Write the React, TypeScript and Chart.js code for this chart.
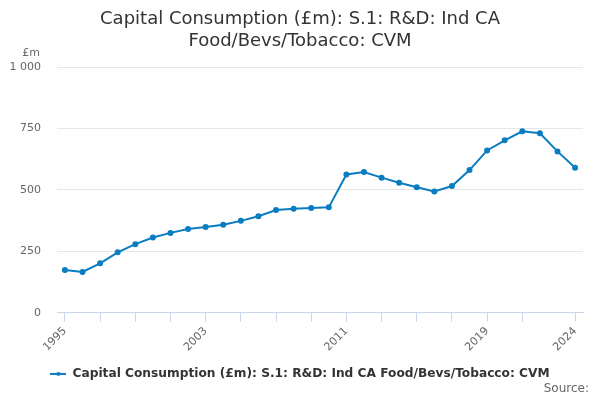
import { useEffect, useRef } from 'react';
import Chart from 'chart.js/auto';

const years = [
  1995, 1996, 1997, 1998, 1999, 2000, 2001, 2002, 2003, 2004,
  2005, 2006, 2007, 2008, 2009, 2010, 2011, 2012, 2013, 2014,
  2015, 2016, 2017, 2018, 2019, 2020, 2021, 2022, 2023, 2024,
];
const values = [
  174, 166, 201, 246, 279, 306, 325, 341, 349, 358,
  374, 393, 418, 423, 426, 429, 563, 573, 550, 529,
  511, 494, 516, 581, 661, 702, 739, 731, 657, 590,
];
const tickYears = [1995, 1997, 1999, 2001, 2003, 2005, 2007, 2009, 2011, 2013, 2015, 2017, 2019, 2021, 2024];
const labelYears = [1995, 2003, 2011, 2019, 2024];
const yTicks = [0, 250, 500, 750, 1000];

const seriesName = 'Capital Consumption (£m): S.1: R&D: Ind CA Food/Bevs/Tobacco: CVM';
const lineColor = '#0a7dc2';
const fontFamily = '"DejaVu Sans", sans-serif';

function legendMarker() {
  const c = document.createElement('canvas');
  c.width = 16;
  c.height = 8;
  const ctx = c.getContext('2d')!;
  ctx.strokeStyle = lineColor;
  ctx.lineWidth = 2;
  ctx.beginPath();
  ctx.moveTo(0, 4);
  ctx.lineTo(16, 4);
  ctx.stroke();
  ctx.fillStyle = lineColor;
  ctx.beginPath();
  ctx.arc(8, 4, 2, 0, Math.PI * 2);
  ctx.fill();
  return c;
}

// "£m" above the y axis and "Source:" in the bottom right corner
const extraText = {
  id: 'extraText',
  afterDraw(chart: Chart) {
    const { ctx, chartArea } = chart;
    ctx.save();
    ctx.font = `11px ${fontFamily}`;
    ctx.fillStyle = '#666';
    ctx.textAlign = 'right';
    ctx.textBaseline = 'middle';
    ctx.fillText('£m', chartArea.left - 17, chartArea.top - 14);
    ctx.font = `12px ${fontFamily}`;
    ctx.fillText('Source:', 589, 389);
    ctx.restore();
  },
};

export default function App() {
  const canvasRef = useRef<HTMLCanvasElement | null>(null);

  useEffect(() => {
    if (!canvasRef.current) return;
    document.body.style.margin = '0';

    const chart = new Chart(canvasRef.current, {
      type: 'line',
      data: {
        datasets: [
          {
            label: seriesName,
            data: years.map((y, i) => ({ x: y, y: values[i] })),
            borderColor: lineColor,
            backgroundColor: lineColor,
            borderWidth: 2,
            pointRadius: 2,
            pointHoverRadius: 3,
            tension: 0,
          },
        ],
      },
      options: {
        animation: false,
        responsive: true,
        maintainAspectRatio: false,
        layout: { padding: { left: 0, right: 0, top: 0, bottom: 10 } },
        plugins: {
          title: {
            display: true,
            text: ['Capital Consumption (£m): S.1: R&D: Ind CA', 'Food/Bevs/Tobacco: CVM'],
            color: '#333',
            font: { family: fontFamily, size: 18, weight: 'normal', lineHeight: 1.2 },
            padding: { top: 9, bottom: 15 },
          },
          legend: {
            position: 'bottom',
            labels: {
              usePointStyle: true,
              pointStyle: legendMarker(),
              pointStyleWidth: 16,
              color: '#333',
              font: { family: fontFamily, size: 12.2, weight: 'bold' },
              padding: 11,
            },
          },
          tooltip: { enabled: false },
        },
        scales: {
          x: {
            type: 'linear',
            min: 1994.55,
            max: 2024.45,
            afterBuildTicks: (axis) => {
              axis.ticks = tickYears.map((v) => ({ value: v }));
            },
            ticks: {
              autoSkip: false,
              maxRotation: 45,
              minRotation: 45,
              color: '#666',
              font: { family: fontFamily, size: 11 },
              callback: (v) => (labelYears.includes(Number(v)) ? String(v) : ''),
            },
            grid: {
              display: true,
              drawOnChartArea: false,
              drawTicks: true,
              tickLength: 9,
              color: '#ccd6eb',
            },
            border: { display: true, color: '#ccd6eb' },
          },
          y: {
            min: 0,
            max: 1000,
            afterBuildTicks: (axis) => {
              axis.ticks = yTicks.map((v) => ({ value: v }));
            },
            afterFit: (axis) => {
              axis.width = 57;
            },
            ticks: {
              color: '#666',
              font: { family: fontFamily, size: 11 },
              padding: 16,
              callback: (v) => Number(v).toLocaleString('en-US').replace(/,/g, ' '),
            },
            grid: { color: '#e6e6e6', drawTicks: false },
            border: { display: false },
          },
          // empty right-hand axis, only keeps a margin on the right of the plot
          yRight: {
            position: 'right',
            ticks: { display: false },
            grid: { display: false },
            border: { display: false },
            afterFit: (axis) => {
              axis.width = 17;
            },
          },
        },
      },
      plugins: [extraText],
    });

    return () => chart.destroy();
  }, []);

  return (
    <div style={{ position: 'relative', width: 600, height: 400 }}>
      <canvas ref={canvasRef} />
    </div>
  );
}
